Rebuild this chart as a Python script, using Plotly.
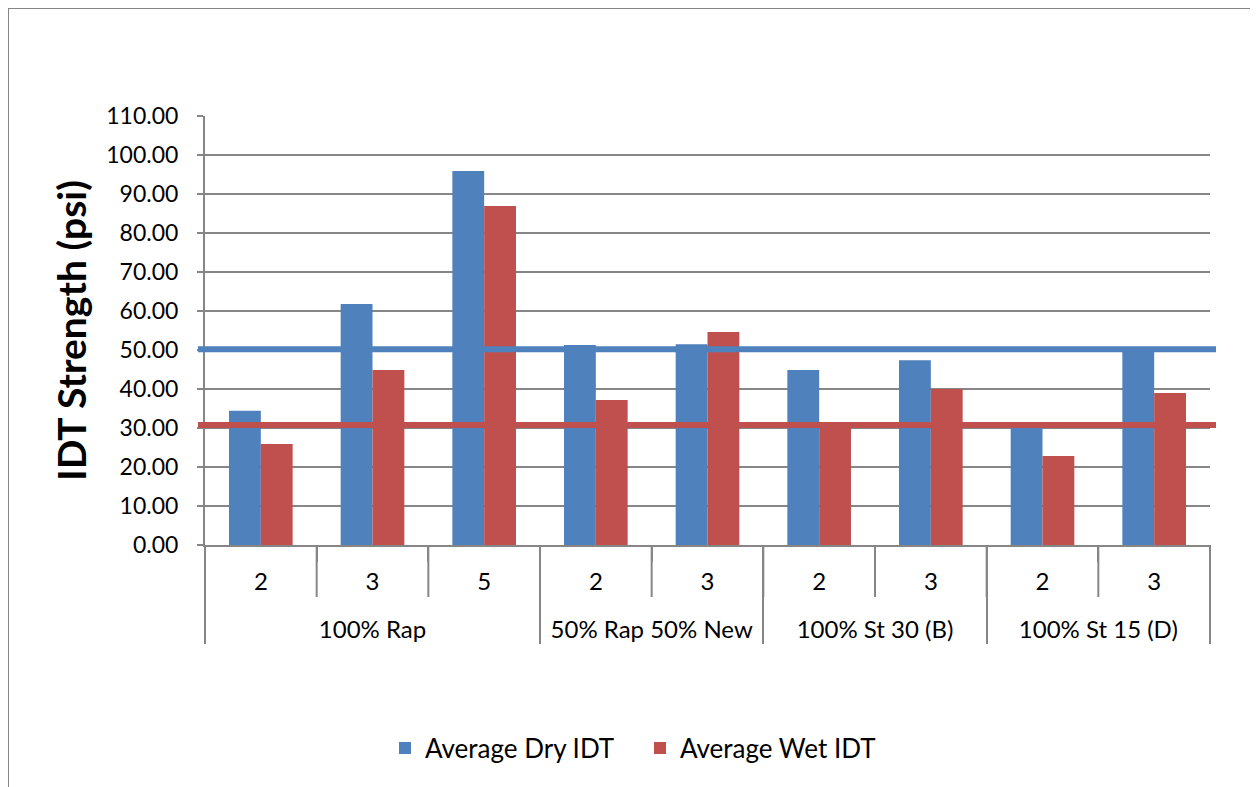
import plotly.graph_objects as go

groups = ['100% Rap', '100% Rap', '100% Rap',
          '50% Rap 50% New', '50% Rap 50% New',
          '100% St 30 (B)', '100% St 30 (B)',
          '100% St 15 (D)', '100% St 15 (D)']
layers = ['2', '3', '5', '2', '3', '2', '3', '2', '3']
dry_idt = [34.4, 61.8, 95.9, 51.3, 51.5, 44.9, 47.4, 30.5, 50.5]
wet_idt = [25.9, 44.9, 86.9, 37.2, 54.6, 31.0, 40.0, 22.8, 39.0]
dry_limit = 50.2
wet_limit = 30.8

BLUE = '#4F81BD'
RED = '#C0504D'
GRAY = '#868686'
FONT = 'Lato, Carlito, Calibri, sans-serif'

# page has an 8px body margin, so the figure is sized/offset to compensate
OFF = 8
W, H = 1258 - OFF, 787 - OFF
L, R, T, B = 205 - OFF, 48, 116 - OFF, 242
pw, ph = W - L - R, H - T - B


def px_x(p):
    return (p - OFF - L) / pw


def px_y(p):
    return (H - B - (p - OFF)) / ph


# blank second line on inner labels pushes the group labels lower
inner = [f'{v}<br> ' for v in layers]

fig = go.Figure()
fig.add_trace(go.Bar(x=[groups, inner], y=dry_idt, name='Average Dry IDT',
                     marker=dict(color=BLUE, line=dict(width=0))))
fig.add_trace(go.Bar(x=[groups, inner], y=wet_idt, name='Average Wet IDT',
                     marker=dict(color=RED, line=dict(width=0))))

# criteria lines
for val, col in [(dry_limit, BLUE), (wet_limit, RED)]:
    fig.add_shape(type='line', xref='paper', yref='y',
                  x0=px_x(198), x1=px_x(1216), y0=val, y1=val,
                  line=dict(color=col, width=6), layer='above')

# inner category tick marks
n = len(layers)
for k in range(n + 1):
    fig.add_shape(type='line', xref='paper', yref='paper',
                  x0=k / n, x1=k / n, y0=0, y1=px_y(597),
                  line=dict(color=GRAY, width=2))

# chart border (partially cropped)
fig.add_shape(type='rect', xref='paper', yref='paper',
              x0=px_x(OFF), x1=px_x(1300), y0=px_y(830), y1=px_y(OFF),
              line=dict(color=GRAY, width=2))

fig.update_layout(
    width=W, height=H,
    margin=dict(l=L, r=R, t=T, b=B),
    plot_bgcolor='white', paper_bgcolor='white',
    font=dict(family=FONT, size=24, color='black'),
    barmode='group', bargap=0.43, bargroupgap=0,
    showlegend=True,
    legend=dict(orientation='h', x=px_x(640), xanchor='center',
                y=px_y(748), yanchor='middle',
                font=dict(size=26), itemwidth=30, entrywidth=210),
    xaxis=dict(type='multicategory', showline=True, linecolor=GRAY, linewidth=2,
               ticks='outside', ticklen=15, tickcolor=GRAY, tickwidth=2,
               tickson='boundaries', ticklabelstandoff=14,
               showdividers=True, dividercolor=GRAY, dividerwidth=2,
               tickfont=dict(size=24)),
    yaxis=dict(range=[0, 110], dtick=10, tickformat='.2f',
               showgrid=True, gridcolor=GRAY, gridwidth=2,
               showline=True, linecolor=GRAY, linewidth=2,
               ticks='outside', ticklen=6, tickcolor=GRAY, tickwidth=2,
               ticklabelstandoff=14,
               zeroline=False, tickfont=dict(size=23),
               title=dict(text='<b>IDT Strength (psi)</b>', font=dict(size=39),
                          standoff=8)),
)

fig.write_html('out.html')
